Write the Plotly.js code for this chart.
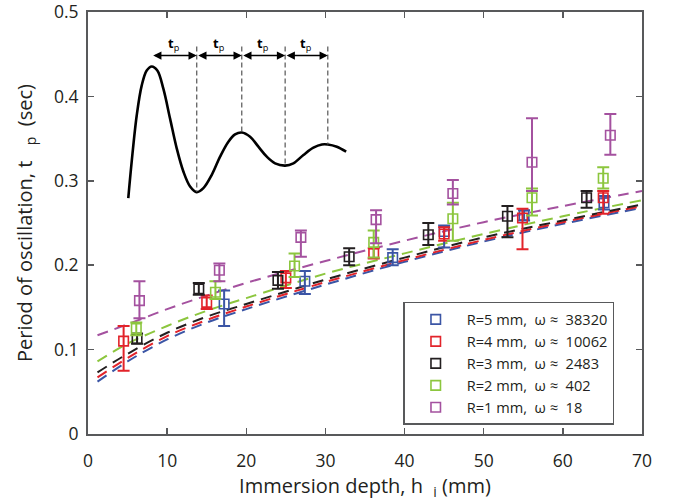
<!DOCTYPE html>
<html><head><meta charset="utf-8">
<script src="https://cdn.plot.ly/plotly-3.0.1.min.js"></script>
<style>html,body{margin:0;padding:0;background:#fff}#chart{width:674px;height:503px}</style>
</head><body><div id="chart"></div>
<script>
// ---- series labels & colours ----
const seriesNames = ['R=5 mm,\u00A0\u00A0ω ≈\u00A0\u00A038320', 'R=4 mm,\u00A0\u00A0ω ≈\u00A0\u00A010062', 'R=3 mm,\u00A0\u00A0ω ≈\u00A0\u00A02483', 'R=2 mm,\u00A0\u00A0ω ≈\u00A0\u00A0402', 'R=1 mm,\u00A0\u00A0ω ≈\u00A0\u00A018'];
const seriesColors = ['#3B55A5', '#E2232A', '#231F20', '#8CC63E', '#A4519F'];

// ---- axis ticks ----
const xTickVals = [0, 10, 20, 30, 40, 50, 60, 70];
const yTickVals = [0, 0.1, 0.2, 0.3, 0.4, 0.5];
const yTickText = ['0', '0.1', '0.2', '0.3', '0.4', '0.5'];

// ---- measured points (immersion depth mm, period s, error up / down) ----
const xR5 = [17.2, 27.4, 38.5, 45.0, 55.1, 65.2];
const yR5 = [0.154, 0.181, 0.209, 0.240, 0.259, 0.274];
const upR5 = [0.016, 0.012, 0.010, 0.007, 0.006, 0.008];
const dnR5 = [0.026, 0.015, 0.009, 0.019, 0.006, 0.008];

const xR4 = [4.5, 15.0, 25.0, 36.1, 45.0, 54.9, 65.1];
const yR4 = [0.110, 0.156, 0.185, 0.214, 0.237, 0.256, 0.280];
const upR4 = [0.018, 0.008, 0.008, 0.006, 0.008, 0.011, 0.008];
const dnR4 = [0.035, 0.008, 0.012, 0.006, 0.008, 0.037, 0.019];

const xR3 = [6.2, 14.0, 24.0, 33.0, 43.0, 53.0, 63.0];
const yR3 = [0.113, 0.172, 0.182, 0.210, 0.236, 0.258, 0.280];
const upR3 = [0.006, 0.007, 0.010, 0.010, 0.014, 0.012, 0.008];
const dnR3 = [0.006, 0.007, 0.010, 0.010, 0.012, 0.025, 0.012];

const xR2 = [6.1, 16.1, 26.1, 36.1, 46.1, 56.1, 65.1];
const yR2 = [0.125, 0.168, 0.199, 0.227, 0.255, 0.280, 0.303];
const upR2 = [0.007, 0.013, 0.015, 0.014, 0.019, 0.011, 0.013];
const dnR2 = [0.008, 0.008, 0.013, 0.018, 0.026, 0.021, 0.012];

const xR1 = [6.5, 16.6, 26.9, 36.4, 46.1, 56.1, 66.0];
const yR1 = [0.158, 0.194, 0.233, 0.254, 0.285, 0.322, 0.354];
const upR1 = [0.023, 0.008, 0.008, 0.011, 0.016, 0.052, 0.025];
const dnR1 = [0.021, 0.013, 0.023, 0.028, 0.013, 0.034, 0.023];

// ---- fitted curves ----
const fitX = [1.2, 5, 10, 15, 20, 30, 40, 50, 60, 70];
const fitR5 = [0.062, 0.086, 0.112, 0.132, 0.148, 0.177, 0.204, 0.228, 0.249, 0.268];
const fitR4 = [0.067, 0.090, 0.116, 0.135, 0.151, 0.180, 0.206, 0.230, 0.251, 0.270];
const fitR3 = [0.073, 0.095, 0.120, 0.139, 0.154, 0.183, 0.209, 0.233, 0.253, 0.272];
const fitR2 = [0.086, 0.107, 0.128, 0.146, 0.161, 0.190, 0.214, 0.237, 0.258, 0.277];
const fitR1 = [0.117, 0.130, 0.148, 0.164, 0.179, 0.205, 0.229, 0.251, 0.270, 0.288];

// ---- inset sketch (drawn in data units of the main axes) ----
const insetX = [5.09, 5.52, 6.16, 6.79, 7.42, 8.05, 8.76, 9.52, 10.37, 11.21, 12.05, 12.90, 13.74, 14.58, 15.64, 16.69, 17.74, 18.58, 19.43, 20.48, 21.53, 22.59, 23.64, 24.91, 25.95, 27.22, 28.48, 29.55, 30.30, 31.44, 32.62];
const insetY = [0.2796, 0.3227, 0.3777, 0.4131, 0.4307, 0.4355, 0.4307, 0.4091, 0.3737, 0.3384, 0.3110, 0.2933, 0.2866, 0.2913, 0.3071, 0.3286, 0.3463, 0.3549, 0.3572, 0.3522, 0.3404, 0.3286, 0.3207, 0.3180, 0.3207, 0.3306, 0.3392, 0.3431, 0.3431, 0.3404, 0.3345];
const markX = [8.05, 13.74, 19.43, 24.91, 30.30];     // arrow end positions
const markBottom = [0.4355, 0.2866, 0.3572, 0.3180, 0.3431];
const markTop = 0.459;
const arrowY = 0.4484;
const labelY = 0.4625;
const insetLabel = '<b>t</b><sub>p</sub>';

const fits = [fitR5, fitR4, fitR3, fitR2, fitR1];
const xs = [xR5, xR4, xR3, xR2, xR1];
const ys = [yR5, yR4, yR3, yR2, yR1];
const ups = [upR5, upR4, upR3, upR2, upR1];
const dns = [dnR5, dnR4, dnR3, dnR2, dnR1];

const traces = [];
fits.forEach((f, i) => {
  traces.push({x: fitX, y: f, type: 'scatter', mode: 'lines', showlegend: false, hoverinfo: 'skip',
    line: {color: seriesColors[i], width: 2, dash: '11px,7px', shape: 'spline', smoothing: 1}});
});
// inset curve
traces.push({x: insetX, y: insetY, type: 'scatter', mode: 'lines', showlegend: false,
  line: {color: '#000', width: 2.6, shape: 'spline', smoothing: 1}});
// dashed verticals (skip first = peak)
const vx = [], vy = [];
for (let i = 1; i < markX.length; i++) { vx.push(markX[i], markX[i], null); vy.push(markTop, markBottom[i], null); }
traces.push({x: vx, y: vy, type: 'scatter', mode: 'lines', showlegend: false,
  line: {color: '#555', width: 1.2, dash: '5px,3px'}});

xs.forEach((x, i) => {
  traces.push({x: x, y: ys[i], type: 'scatter', mode: 'markers', name: seriesNames[i],
    marker: {symbol: 'square-open', size: 9.5, color: seriesColors[i], line: {width: 1.6, color: seriesColors[i]}},
    error_y: {type: 'data', symmetric: false, array: ups[i], arrayminus: dns[i], color: seriesColors[i], thickness: 2, width: 6}});
});

const annotations = [];
for (let i = 0; i < markX.length - 1; i++) {
  annotations.push({x: markX[i + 1], y: arrowY, ax: markX[i], ay: arrowY, xref: 'x', yref: 'y', axref: 'x', ayref: 'y',
    text: '', showarrow: true, arrowhead: 2, startarrowhead: 2, arrowside: 'end+start', arrowsize: 1.1, startarrowsize: 1.1, arrowwidth: 1.5, arrowcolor: '#000'});
  annotations.push({x: (markX[i] + markX[i + 1]) / 2, y: labelY, xref: 'x', yref: 'y', text: insetLabel, showarrow: false,
    font: {size: 13, color: '#000'}});
}

const axisCommon = {ticks: 'inside', ticklen: 6, tickwidth: 1.5, tickcolor: '#58595B', showline: true, linecolor: '#58595B', linewidth: 2,
  mirror: 'ticks', showgrid: false, zeroline: false, tickmode: 'array', ticklabeloverflow: 'allow', tickfont: {size: 17.5, color: '#231F20'}};

const layout = {
  width: 674, height: 503,
  margin: {l: 88, r: 32, t: 12, b: 69},
  paper_bgcolor: '#fff', plot_bgcolor: '#fff',
  font: {family: '"Open Sans", sans-serif', color: '#231F20', size: 15},
  xaxis: Object.assign({}, axisCommon, {range: [0, 70], tickvals: xTickVals, ticklabelstandoff: 10,
    title: {text: 'Immersion depth, h\u00A0\u00A0<sub>i</sub>\u00A0(mm)', font: {size: 20}, standoff: 0}}),
  yaxis: Object.assign({}, axisCommon, {range: [0, 0.5], tickvals: yTickVals, ticktext: yTickText, ticklabelstandoff: 4,
    title: {text: 'Period of oscillation, t\u00A0\u00A0\u00A0<sub>p</sub>\u00A0\u00A0(sec)', font: {size: 20}, standoff: 16}}),
  showlegend: true,
  legend: {x: 0.569, y: 0.313, xanchor: 'left', yanchor: 'top', bordercolor: '#58595B', borderwidth: 1.5, bgcolor: '#fff',
    font: {size: 14.6, color: '#231F20'}, itemwidth: 52, tracegroupgap: 0},
  annotations: annotations
};

Plotly.newPlot('chart', traces, layout, {displayModeBar: false, staticPlot: true});
</script></body></html>
